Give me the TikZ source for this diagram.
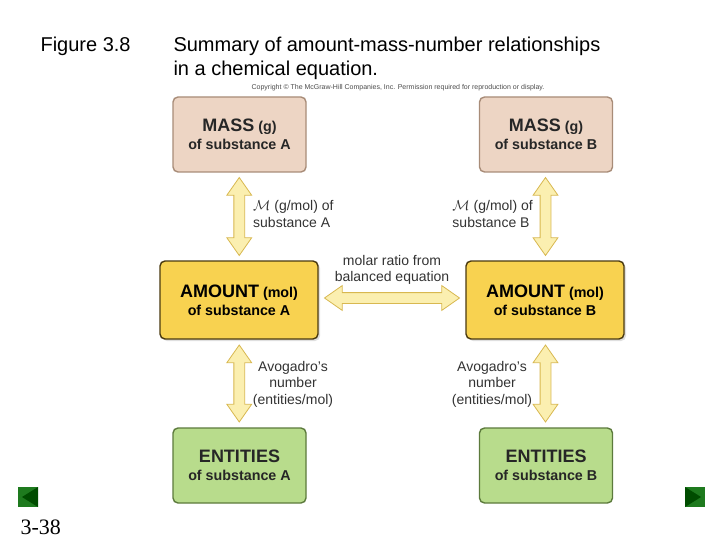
\documentclass[tikz,border=0pt]{standalone}
\usepackage{fontspec}
\setmainfont{Liberation Sans}
\newfontfamily\serifx{Liberation Serif}
\usetikzlibrary{shapes.arrows,calc,shadows}
\definecolor{massf}{HTML}{EDD5C4}\definecolor{massd}{HTML}{A88C78}
\definecolor{amtf}{HTML}{F8D250}\definecolor{amtd}{HTML}{4A3A10}
\definecolor{entf}{HTML}{B8DC8C}\definecolor{entd}{HTML}{5C7A3C}
\definecolor{arrf}{HTML}{FBEFB0}\definecolor{arrd}{HTML}{D8B850}
\definecolor{navg}{HTML}{1E7A1E}
\newcommand\bwd[1]{{\fontsize{18}{20}\selectfont #1}}
\begin{document}
\begin{tikzpicture}[x=1pt,y=-1pt,
 box/.style={rounded corners=5pt,line width=1.4pt,align=center,inner sep=0,font=\fontsize{14.3}{18}\selectfont\bfseries},
 mass/.style={box,fill=massf,draw=massd,minimum width=133pt,minimum height=75pt,text=black!85},
 amt/.style={box,fill=amtf,draw=amtd,minimum width=158pt,minimum height=78pt,drop shadow={opacity=0.25,shadow xshift=2pt,shadow yshift=-2pt}},
 ent/.style={box,fill=entf,draw=entd,minimum width=133pt,minimum height=75pt,text=black!85},
 dbl/.style={double arrow,fill=arrf,draw=arrd,line width=0.8pt,inner xsep=0pt,inner ysep=5pt,minimum width=0pt,double arrow head extend=7pt,double arrow tip angle=70},
 lab/.style={font=\fontsize{14}{16.5}\selectfont,text=black!80,inner sep=0}]
\useasboundingbox (0,0) rectangle (720,540);
\fill[white] (0,0) rectangle (720,540);
\node[anchor=base west,font=\fontsize{20}{24}\selectfont] (fig) at (37,52) {Figure 3.8};
\node[anchor=base west,font=\fontsize{20}{24}\selectfont] (ttl) at (170,52) {Summary of amount-mass-number relationships};
\node[anchor=base west,font=\fontsize{20}{24}\selectfont] (ttl2) at (170,76) {in a chemical equation.};
\node[font=\fontsize{7}{8}\selectfont,text=black!70] (copy) at (398,88) {Copyright \textcopyright{} The McGraw-Hill Companies, Inc. Permission required for reproduction or display.};
\node[mass] (mA) at (239.5,134.5) {\bwd{MASS} (g)\\of substance A};
\node[mass] (mB) at (546,134.5) {\bwd{MASS} (g)\\of substance B};
\node[amt] (aA) at (239,300) {\bwd{AMOUNT} (mol)\\of substance A};
\node[amt] (aB) at (545,300) {\bwd{AMOUNT} (mol)\\of substance B};
\node[ent] (eA) at (239.5,465.5) {\bwd{ENTITIES}\\of substance A};
\node[ent] (eB) at (546,465.5) {\bwd{ENTITIES}\\of substance B};
\node[dbl,rotate=90,minimum height=78pt] (d1) at ($(mA.south)!0.5!(aA.north)$) {};
\node[dbl,rotate=90,minimum height=78pt] (d2) at ($(mB.south)!0.5!(aB.north)$) {};
\node[dbl,rotate=90,minimum height=77pt] (d3) at ($(aA.south)!0.5!(eA.north)$) {};
\node[dbl,rotate=90,minimum height=77pt] (d4) at ($(aB.south)!0.5!(eB.north)$) {};
\node[dbl,minimum height=135pt] (d5) at ($(aA.east)!0.5!(aB.west)+(0,-2)$) {};
\node[lab,anchor=west,align=left] (l1) at (253,214) {$\mathcal{M}$ (g/mol) of\\substance A};
\node[lab,anchor=east,align=left] (l2) at (533,214) {$\mathcal{M}$ (g/mol) of\\substance B};
\node[lab,align=center] (l3) at (392,270) {molar ratio from\\balanced equation};
\node[lab,align=center] (l4) at (293,384) {Avogadro's\\number\\(entities/mol)};
\node[lab,align=center] (l5) at (492,384) {Avogadro's\\number\\(entities/mol)};
\node[anchor=base west,font=\serifx\fontsize{22}{24}\selectfont] (pg) at (17,534) {3-38};
\fill[navg] (18,487) rectangle (38,507);
\fill[green!30!black] (22,497) -- (38,487) -- (38,507) -- cycle;
\fill[navg] (685,487) rectangle (705,507);
\fill[green!30!black] (701,497) -- (685,487) -- (685,507) -- cycle;
\end{tikzpicture}
\end{document}
